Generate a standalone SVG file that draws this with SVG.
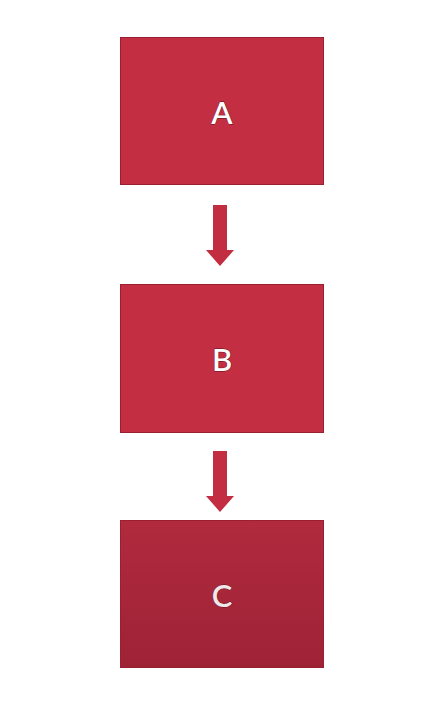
<svg xmlns="http://www.w3.org/2000/svg" width="440" height="705" viewBox="0 0 440 705">
<defs>
<linearGradient id="gc" x1="0" y1="0" x2="0" y2="1">
<stop offset="0" stop-color="#b12a3e"/>
<stop offset="1" stop-color="#9e2236"/>
</linearGradient>
<style>
.box{stroke:#9a1f30;stroke-width:1}
.lbl{font-family:Lato,"Open Sans",sans-serif;font-size:31px;font-weight:600;fill:#ffffff;text-anchor:middle;stroke:#5a1020;stroke-width:0.8;paint-order:stroke}
.arr{fill:#c22d41}
</style>
</defs>
<rect width="440" height="705" fill="#ffffff"/>
<g id="A">
<rect class="box" x="120.5" y="37.5" width="203" height="147" fill="#c42e42"/>
<text class="lbl" x="222" y="124">A</text>
</g>
<g id="B">
<rect class="box" x="120.5" y="284.5" width="203" height="148" fill="#c42e42"/>
<text class="lbl" x="222" y="371">B</text>
</g>
<g id="C">
<rect class="box" x="120.5" y="520.5" width="203" height="147" fill="url(#gc)"/>
<text class="lbl" x="222" y="607" style="fill:#f2e6ea">C</text>
</g>
<g id="connectors">
<path class="arr" d="M213,205 H227 V250 H234 L220,266 L206,250 H213 Z"/>
<path class="arr" d="M213,451 H227 V496 H234 L220,512 L206,496 H213 Z"/>
</g>
</svg>
